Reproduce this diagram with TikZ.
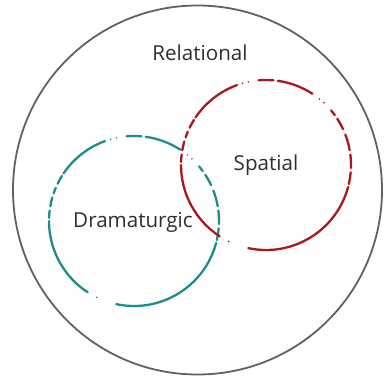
\documentclass[tikz,border=0pt]{standalone}
\usepackage{fontspec}
\setmainfont{Open Sans}
\begin{document}
\begin{tikzpicture}[x=1pt,y=-1pt,
  ringline/.style={line width=2.3pt, line cap=round},
  label/.style={font=\fontsize{20.6}{24}\selectfont, text=black!82},
  outerring/.style={circle, draw=black!62, line width=1.8pt, minimum size=369pt, inner sep=0pt}]
\definecolor{ringteal}{HTML}{1E8C8A}
\definecolor{brick}{HTML}{A8181C}
\useasboundingbox (0,0) rectangle (386,380);

% broken, hand-drawn style ring: arcs, short dashes and dots around a centre
\newcommand\brokenring[2]{%
  \foreach \a/\b in {258/345, 180/237, 110/146, 57/82, 85/95,
                     -13/-5, -2/7, 10/21, 25/33, 36/40,
                     148/154, 157/161, 164/170, 173/178}
    \draw[#2, ringline] ([shift={(\a:85pt)}]#1) arc[start angle=\a, end angle=\b, radius=85pt];
  \foreach \a in {244, 102, 106, 47, 51}
    \fill[#2] ([shift={(\a:85pt)}]#1) circle (0.9pt);
}

% outer boundary
\node[outerring] (relring) at (197.5,190) {};
\node[label] (relational) at (200,53) {Relational};

% inner rings
\coordinate (dramc) at (134,221);
\coordinate (spatc) at (266,165);
\brokenring{dramc}{ringteal}
\brokenring{spatc}{brick}

\node[label] (dramaturgic) at (133,222) {Dramaturgic};
\node[label] (spatial) at (266,165) {Spatial};
\end{tikzpicture}
\end{document}
